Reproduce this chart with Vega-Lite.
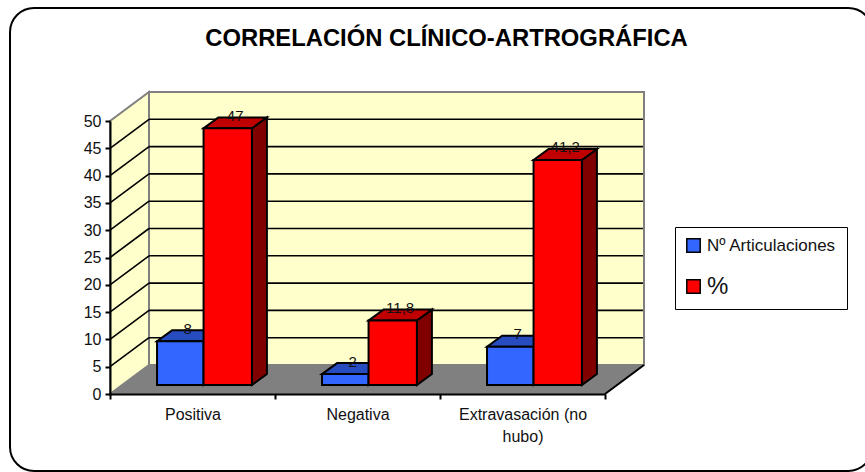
{"$schema":"https://vega.github.io/schema/vega-lite/v6.json","width":495,"height":273,"autosize":{"type":"none"},"padding":{"left":110,"top":121,"right":260,"bottom":78},"background":"white","config":{"view":{"stroke":null},"font":"Liberation Sans"},
"title":{"text":"CORRELACIÓN CLÍNICO-ARTROGRÁFICA","anchor":"middle","offset":-44,"dx":89,"fontSize":23.8,"fontWeight":"bold","font":"Liberation Sans","color":"black"},
"layer":[
{"data":{"values":[{"a":1}]},"transform":[{"calculate":"-0.606","as":"xa"},{"calculate":"4.62","as":"xb"},{"calculate":"-14.1","as":"ya"},{"calculate":"70.7","as":"yb"}],"mark":{"type":"rect","fill":"white","stroke":"black","strokeWidth":2,"cornerRadius":24},
"encoding":{"x":{"field":"xa","type":"quantitative","title":null,"scale":{"domain":[0,3],"nice":false,"zero":false},"axis":{"values":[0,0.5,1,1.5,2,2.5,3],"tickCount":7,"labelExpr":"datum.value==0.5?'Positiva':datum.value==1.5?'Negativa':datum.value==2.5?['Extravasación (no','hubo)']:''","tickOpacity":{"condition":{"test":"datum.value%1===0","value":1},"value":0},"tickSize":5,"tickWidth":2,"tickColor":"black","domainColor":"black","domainWidth":2,"labelColor":"#111","labelFontSize":16,"labelFont":"Liberation Sans","labelPadding":7,"labelOverlap":false,"labelBound":false,"labelFlush":false,"labelLineHeight":22,"grid":false,"zindex":1}},"x2":{"field":"xb"},
"y":{"field":"ya","type":"quantitative","title":null,"scale":{"domain":[0,50],"nice":false,"zero":false},"axis":{"values":[0,5,10,15,20,25,30,35,40,45,50],"tickCount":11,"tickSize":5,"tickWidth":2,"tickColor":"black","domainColor":"black","domainWidth":2,"labelColor":"#111","labelFontSize":16,"labelFont":"Liberation Sans","labelPadding":4,"labelOverlap":false,"labelBound":false,"labelFlush":false,"grid":false,"zindex":1}},"y2":{"field":"yb"}}},
{"data":{"values":[{"t":0},{"t":1}]},"transform":[{"calculate":"datum.t*39/165","as":"xx"},{"calculate":"datum.t*29/5.46","as":"yl"},{"calculate":"50+datum.yl","as":"yh"}],"mark":{"type":"area","fill":"#FFFFCC","stroke":"#808080","strokeWidth":2},"encoding":{"x":{"field":"xx","type":"quantitative"},"y":{"field":"yl","type":"quantitative"},"y2":{"field":"yh"}}},
{"data":{"values":[{"a":1}]},"transform":[{"calculate":"0.2364","as":"xa"},{"calculate":"3.2364","as":"xb"},{"calculate":"5.31","as":"ya"},{"calculate":"55.31","as":"yb"}],"mark":{"type":"rect","fill":"#FFFFCC","stroke":"#808080","strokeWidth":2},"encoding":{"x":{"field":"xa","type":"quantitative"},"x2":{"field":"xb"},"y":{"field":"ya","type":"quantitative"},"y2":{"field":"yb"}}},
{"data":{"values":[{"t":0},{"t":1}]},"transform":[{"calculate":"datum.t*39/165","as":"xa"},{"calculate":"3+datum.xa","as":"xb"},{"calculate":"datum.t*29/5.46","as":"yy"}],"mark":{"type":"area","orient":"horizontal","fill":"#808080","stroke":"#808080","strokeWidth":1},"encoding":{"y":{"field":"yy","type":"quantitative"},"x":{"field":"xa","type":"quantitative"},"x2":{"field":"xb"}}},
{"data":{"values":[{"v":5},{"v":10},{"v":15},{"v":20},{"v":25},{"v":30},{"v":35},{"v":40},{"v":45}]},"transform":[{"calculate":"datum.v+5.31","as":"vb"},{"calculate":"0.2364","as":"xa"},{"calculate":"3.23","as":"xb"}],"mark":{"type":"rule","color":"black","strokeWidth":1.6},"encoding":{"x":{"field":"xa","type":"quantitative"},"x2":{"field":"xb"},"y":{"field":"vb","type":"quantitative"}}},
{"data":{"values":[{"v":5},{"v":10},{"v":15},{"v":20},{"v":25},{"v":30},{"v":35},{"v":40},{"v":45}]},"transform":[{"calculate":"[0,1]","as":"t"},{"flatten":["t"]},{"calculate":"datum.t*0.2364","as":"xx"},{"calculate":"datum.v+datum.t*5.31","as":"yy"}],"mark":{"type":"line","color":"black","strokeWidth":1.6},"encoding":{"detail":{"field":"v","type":"nominal"},"x":{"field":"xx","type":"quantitative"},"y":{"field":"yy","type":"quantitative"}}},
{"data":{"values":[{"t":0},{"t":1}]},"transform":[{"calculate":"3+datum.t*0.2364","as":"xx"},{"calculate":"datum.t*5.31","as":"yy"}],"mark":{"type":"line","color":"black","strokeWidth":2},"encoding":{"x":{"field":"xx","type":"quantitative"},"y":{"field":"yy","type":"quantitative"}}},
{"data":{"values":[
{"categoria":"Positiva","serie":"Nº Articulaciones","valor":8},
{"categoria":"Positiva","serie":"%","valor":47},
{"categoria":"Negativa","serie":"Nº Articulaciones","valor":2},
{"categoria":"Negativa","serie":"%","valor":11.8},
{"categoria":"Extravasación (no hubo)","serie":"Nº Articulaciones","valor":7},
{"categoria":"Extravasación (no hubo)","serie":"%","valor":41.2}
]},
"transform":[
{"calculate":"indexof(['Positiva','Negativa','Extravasación (no hubo)'],datum.categoria)","as":"idx"},
{"calculate":"datum.serie==='%'?1:0","as":"s"},
{"calculate":"datum.idx+0.285+datum.s*0.282","as":"xl"},
{"calculate":"datum.xl+(datum.s?0.293:0.282)","as":"xr"},
{"calculate":"datum.valor+1.65","as":"tope"},
{"calculate":"1.65","as":"base"},
{"calculate":"replace(toString(datum.valor),'.',',')","as":"etiqueta"},
{"calculate":"datum.categoria+datum.serie","as":"clave"}
],
"layer":[
{"transform":[{"calculate":"[0,1]","as":"t"},{"flatten":["t"]},{"calculate":"datum.xr+datum.t*0.0909","as":"xs"},{"calculate":"datum.tope+datum.t*2.01","as":"ys"},{"calculate":"datum.base+datum.t*2.01","as":"ybs"}],
"mark":{"type":"area","stroke":"black","strokeWidth":2,"strokeJoin":"miter"},"encoding":{"detail":{"field":"clave","type":"nominal"},"x":{"field":"xs","type":"quantitative"},"y":{"field":"ys","type":"quantitative"},"y2":{"field":"ybs"},"fill":{"condition":{"test":"datum.serie==='%'","value":"#800000"},"value":"#1A3380"}}},
{"transform":[{"calculate":"[0,1]","as":"t"},{"flatten":["t"]},{"calculate":"datum.xl+datum.t*0.0909","as":"xa"},{"calculate":"datum.xr+datum.t*0.0909","as":"xb"},{"calculate":"datum.tope+datum.t*2.01","as":"ys"}],
"mark":{"type":"area","orient":"horizontal","stroke":"black","strokeWidth":2,"strokeJoin":"miter"},"encoding":{"detail":{"field":"clave","type":"nominal"},"y":{"field":"ys","type":"quantitative"},"x":{"field":"xa","type":"quantitative"},"x2":{"field":"xb"},"fill":{"condition":{"test":"datum.serie==='%'","value":"#C00000"},"value":"#264CBF"}}},
{"mark":{"type":"rect","stroke":"black","strokeWidth":2},"encoding":{"x":{"field":"xl","type":"quantitative"},"x2":{"field":"xr"},"y":{"field":"tope","type":"quantitative"},"y2":{"field":"base"},"order":{"field":"s","type":"quantitative"},
"color":{"field":"serie","type":"nominal","scale":{"domain":["Nº Articulaciones","%"],"range":["#3366FF","#FF0000"]},"legend":{"orient":"none","legendX":565,"legendY":106,"title":null,"symbolType":"square","symbolSize":180,"symbolStrokeWidth":1.5,"symbolStrokeColor":"black","symbolOpacity":1,"fillColor":"white","strokeColor":"black","padding":10,"rowPadding":18,"labelFontSize":16,"labelColor":"#111","labelFont":"Liberation Sans","labelOffset":5,"labelLimit":220,"labelExpr":"datum.label==='%'?datum.label:datum.label+'\u00a0'","encode":{"labels":{"update":{"fontSize":{"signal":"datum.label==='%'?24:17"}}}}}}}},
{"transform":[{"calculate":"datum.xl+(datum.xr-datum.xl)/2+0.045","as":"xt"},{"calculate":"datum.tope+2.3","as":"yt"}],"mark":{"type":"text","fontSize":15,"font":"Liberation Sans","color":"#111","baseline":"middle","align":"center"},"encoding":{"x":{"field":"xt","type":"quantitative"},"y":{"field":"yt","type":"quantitative"},"text":{"field":"etiqueta","type":"nominal"}}}
]}
]}
